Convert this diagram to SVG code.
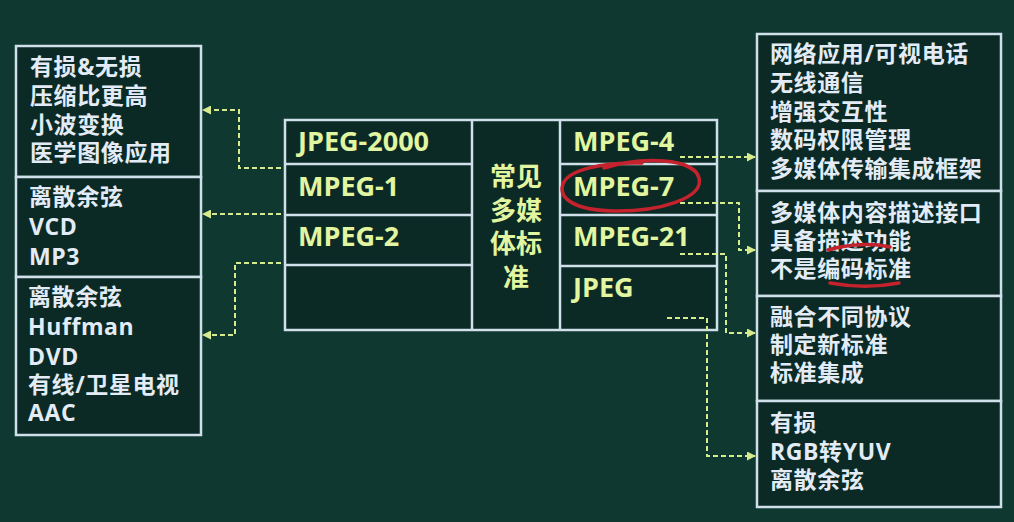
<svg xmlns="http://www.w3.org/2000/svg" width="1014" height="522" viewBox="0 0 1014 522">
<defs>
<style>
.bg{fill:#0f3830}
.box{fill:#0b2a25;stroke:#cfe0ea;stroke-width:2.5}
.ln{stroke:#cfe0ea;stroke-width:2.5;fill:none}
.st{font-family:"Open Sans","Noto Sans CJK SC",sans-serif;font-weight:bold;font-size:23px;letter-spacing:0.6px;fill:#e3ecf6}
.mt{font-family:"Open Sans","Noto Sans CJK SC",sans-serif;font-weight:bold;font-size:27px;fill:#e2f5a0}
.mc{font-family:"Noto Sans CJK SC",sans-serif;font-weight:bold;font-size:26px;fill:#e2f5a0;text-anchor:middle}
.cn{fill:none;stroke:#d6ea8e;stroke-width:2;stroke-dasharray:5 3}
.red{fill:none;stroke:#c4222c;stroke-width:3.5;stroke-linecap:round}
</style>
<marker id="ah" markerUnits="userSpaceOnUse" markerWidth="9" markerHeight="9" refX="8" refY="4.5" orient="auto">
<path d="M0,0 L9,4.5 L0,9 z" fill="#d6ea8e"/>
</marker>
</defs>
<rect class="bg" x="0" y="0" width="1014" height="522"/>

<g id="left-jpeg2000">
<rect class="box" x="16" y="46" width="185" height="131"/>
<text class="st" x="30" y="75">有损&amp;无损</text>
<text class="st" x="30" y="104">压缩比更高</text>
<text class="st" x="30" y="133">小波变换</text>
<text class="st" x="30" y="161">医学图像应用</text>
</g>
<g id="left-mpeg1">
<rect class="box" x="16" y="177" width="185" height="100"/>
<text class="st" x="29" y="205">离散余弦</text>
<text class="st" x="29" y="235">VCD</text>
<text class="st" x="29" y="265">MP3</text>
</g>
<g id="left-mpeg2">
<rect class="box" x="16" y="277" width="185" height="158"/>
<text class="st" x="28" y="305">离散余弦</text>
<text class="st" x="28" y="335">Huffman</text>
<text class="st" x="28" y="365">DVD</text>
<text class="st" x="28" y="393">有线/卫星电视</text>
<text class="st" x="28" y="421">AAC</text>
</g>

<g id="center-table">
<rect class="box" x="285" y="120" width="432" height="210"/>
<path class="ln" d="M472,120 V330 M560,120 V330 M285,164 H472 M285,215 H472 M285,265 H472 M560,164 H717 M560,215 H717 M560,266 H717"/>
<text class="mt" x="298" y="151">JPEG-2000</text>
<text class="mt" x="298" y="196">MPEG-1</text>
<text class="mt" x="298" y="246">MPEG-2</text>
<text class="mc" x="516" y="186">常见</text>
<text class="mc" x="516" y="220">多媒</text>
<text class="mc" x="516" y="253">体标</text>
<text class="mc" x="516" y="287">准</text>
<text class="mt" x="573" y="151">MPEG-4</text>
<text class="mt" x="573" y="196">MPEG-7</text>
<text class="mt" x="573" y="246">MPEG-21</text>
<text class="mt" x="573" y="297">JPEG</text>
</g>

<g id="right-mpeg4">
<rect class="box" x="757" y="34" width="244" height="157"/>
<text class="st" x="770" y="62">网络应用/可视电话</text>
<text class="st" x="770" y="91">无线通信</text>
<text class="st" x="770" y="120">增强交互性</text>
<text class="st" x="770" y="148">数码权限管理</text>
<text class="st" x="770" y="177">多媒体传输集成框架</text>
</g>
<g id="right-mpeg7">
<rect class="box" x="757" y="191" width="244" height="105"/>
<text class="st" x="770" y="221">多媒体内容描述接口</text>
<text class="st" x="770" y="249">具备描述功能</text>
<text class="st" x="770" y="277">不是编码标准</text>
</g>
<g id="right-mpeg21">
<rect class="box" x="757" y="296" width="244" height="105"/>
<text class="st" x="770" y="325">融合不同协议</text>
<text class="st" x="770" y="353">制定新标准</text>
<text class="st" x="770" y="381">标准集成</text>
</g>
<g id="right-jpeg">
<rect class="box" x="757" y="401" width="244" height="106"/>
<text class="st" x="770" y="431">有损</text>
<text class="st" x="770" y="460">RGB转YUV</text>
<text class="st" x="770" y="488">离散余弦</text>
</g>

<g id="connectors">
<path class="cn" d="M281,168 H239 V110 H203" marker-end="url(#ah)"/>
<path class="cn" d="M281,214 H203" marker-end="url(#ah)"/>
<path class="cn" d="M281,263 H235 V335 H203" marker-end="url(#ah)"/>
<path class="cn" d="M680,157 H755" marker-end="url(#ah)"/>
<path class="cn" d="M680,203 H739 V250 H755" marker-end="url(#ah)"/>
<path class="cn" d="M680,254 H726 V333 H755" marker-end="url(#ah)"/>
<path class="cn" d="M667,318 H707 V456 H755" marker-end="url(#ah)"/>
</g>

<g id="annotations">
<path class="red" d="M604,168 C642,156 694,158 699,178 C704,198 660,212 612,211 C574,210 558,198 563,184 C568,170 602,162 642,163"/>
<path class="red" d="M828,250 C848,244 872,243 890,247"/>
<path class="red" d="M830,283 C852,287 878,287 899,283"/>
</g>
</svg>
